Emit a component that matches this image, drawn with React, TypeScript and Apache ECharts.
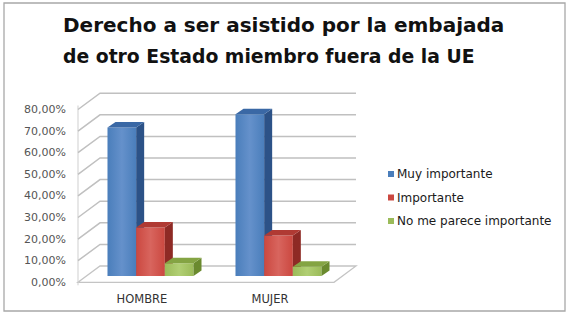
import React, { useEffect, useRef } from "react";
import * as echarts from "echarts";

const titleLines = [
  "Derecho a ser asistido por la embajada",
  "de otro Estado miembro fuera de la UE",
];
const categories = ["HOMBRE", "MUJER"];
const seriesNames = ["Muy importante", "Importante", "No me parece importante"];
const muyImportante = [68.7, 74.9];
const importante = [22.4, 18.7];
const noImportante = [5.9, 4.3];
const yTicks = [0, 10, 20, 30, 40, 50, 60, 70, 80];

const seriesValues = [muyImportante, importante, noImportante];
const palette = [
  { front: "#4A7EBB", side: "#2C5287", top: "#6591CB", cap: "#3A68A5" },
  { front: "#CB4840", side: "#8E2A25", top: "#D8655E", cap: "#B03A33" },
  { front: "#9BBB59", side: "#6A8A2E", top: "#B1CF74", cap: "#84A443" },
];

// 3D geometry (pixels)
const WALL_DX = 22;
const WALL_DY = -16.3;
const BAR_SHIFT_X = 8.5;
const BAR_SHIFT_Y = -6.3;
const BAR_DX = 8;
const BAR_DY = -5.5;
const BAR_FRAC = 0.224;

export default function App() {
  const ref = useRef<HTMLDivElement>(null);
  useEffect(() => {
    const chart = echarts.init(ref.current!, null, { renderer: "svg" });

    const wallSeries: any = {
      type: "custom",
      name: "walls",
      clip: false,
      silent: true,
      z: 1,
      data: yTicks.map((v) => [0, v]),
      renderItem: (params: any, api: any) => {
        const v = api.value(1);
        const cs = params.coordSys;
        const left = cs.x;
        const right = cs.x + cs.width;
        const y = api.coord([0, v])[1];
        const children: any[] = [];
        const lineStyle = { stroke: "#C0C0C0", lineWidth: 1.5, fill: null };
        if (v === 0) {
          children.push({
            type: "polygon",
            shape: {
              points: [
                [left, y],
                [left + WALL_DX, y + WALL_DY],
                [right + WALL_DX, y + WALL_DY],
                [right, y],
              ],
            },
            style: { fill: "#FFFFFF", stroke: "#C4C4C4", lineWidth: 1.3 },
          });
          const yTop = api.coord([0, yTicks[yTicks.length - 1]])[1];
          children.push({
            type: "line",
            shape: { x1: left, y1: y + 3, x2: left, y2: yTop - 4 },
            style: { stroke: "#CFCFCF", lineWidth: 1 },
          });
        } else {
          children.push({
            type: "polyline",
            shape: {
              points: [
                [left, y],
                [left + WALL_DX, y + WALL_DY],
                [right + WALL_DX, y + WALL_DY],
              ],
            },
            style: lineStyle,
          });
        }
        return { type: "group", children };
      },
    };

    const barSeries = seriesValues.map((vals, idx) => ({
      type: "custom",
      name: seriesNames[idx],
      clip: false,
      z: 2 + idx,
      itemStyle: { color: palette[idx].front },
      data: vals.map((v, i) => [i, v]),
      renderItem: (params: any, api: any) => {
        const cat = api.value(0);
        const val = api.value(1);
        const top = api.coord([cat, val]);
        const base = api.coord([cat, 0]);
        const band = api.size([1, 0])[0];
        const bw = band * BAR_FRAC;
        const x0 = top[0] - 1.5 * bw + idx * bw + BAR_SHIFT_X;
        const yT = top[1] + BAR_SHIFT_Y;
        const yB = base[1] + BAR_SHIFT_Y;
        const c = palette[idx];
        return {
          type: "group",
          children: [
            {
              type: "rect",
              shape: { x: x0, y: yT, width: bw, height: yB - yT },
              style: {
                fill: new echarts.graphic.LinearGradient(0, 0, 1, 0, [
                  { offset: 0, color: c.front },
                  { offset: 0.5, color: c.top },
                  { offset: 1, color: c.front },
                ]),
              },
            },
            {
              type: "polygon",
              shape: {
                points: [
                  [x0 + bw, yT],
                  [x0 + bw + BAR_DX, yT + BAR_DY],
                  [x0 + bw + BAR_DX, yB + BAR_DY],
                  [x0 + bw, yB],
                ],
              },
              style: { fill: c.side },
            },
            {
              type: "polygon",
              shape: {
                points: [
                  [x0, yT],
                  [x0 + BAR_DX, yT + BAR_DY],
                  [x0 + bw + BAR_DX, yT + BAR_DY],
                  [x0 + bw, yT],
                ],
              },
              style: { fill: c.cap },
            },
          ],
        };
      },
    }));

    chart.setOption({
      animation: false,
      backgroundColor: "#FFFFFF",
      grid: { left: 78, right: 236, top: 109.5, bottom: 32.7 },
      xAxis: {
        type: "category",
        data: categories,
        axisLine: { show: false },
        axisTick: { show: false },
        axisLabel: {
          margin: 11,
          fontFamily: "DejaVu Sans",
          fontSize: 11.5,
          color: "#333333",
        },
      },
      yAxis: {
        type: "value",
        min: 0,
        max: 80,
        interval: 10,
        axisLine: { show: false },
        axisTick: { show: false },
        splitLine: { show: false },
        axisLabel: {
          margin: 12,
          fontFamily: "DejaVu Sans",
          fontSize: 11,
          color: "#555555",
          formatter: (v: number) => v.toFixed(2).replace(".", ",") + "%",
        },
      },
      legend: {
        data: seriesNames,
        orient: "vertical",
        left: 383,
        top: 162.5,
        icon: "rect",
        itemWidth: 6,
        itemHeight: 6,
        itemGap: 10.5,
        textStyle: {
          fontFamily: "DejaVu Sans",
          fontSize: 12,
          lineHeight: 13,
          color: "#1A1A1A",
          padding: [0, 0, 0, -2],
        },
      },
      graphic: [
        {
          type: "rect",
          z: -10,
          shape: { x: 4, y: 3, width: 561, height: 308 },
          style: { fill: null, stroke: "#A8A8A8", lineWidth: 1.3 },
        },
        {
          type: "text",
          x: 63,
          y: 25,
          style: {
            text: titleLines[0],
            fontFamily: "DejaVu Sans",
            fontWeight: "bold",
            fontSize: 20,
            fill: "#111111",
            textAlign: "left",
            textVerticalAlign: "middle",
          },
        },
        {
          type: "text",
          x: 63,
          y: 56,
          scaleX: 0.94,
          style: {
            text: titleLines[1],
            fontFamily: "DejaVu Sans",
            fontWeight: "bold",
            fontSize: 20,
            fill: "#111111",
            textAlign: "left",
            textVerticalAlign: "middle",
          },
        },
      ],
      series: [wallSeries, ...barSeries],
    });
    return () => chart.dispose();
  }, []);
  return (
    <div
      ref={ref}
      style={{ position: "fixed", left: 0, top: 0, width: 570, height: 315 }}
    />
  );
}
